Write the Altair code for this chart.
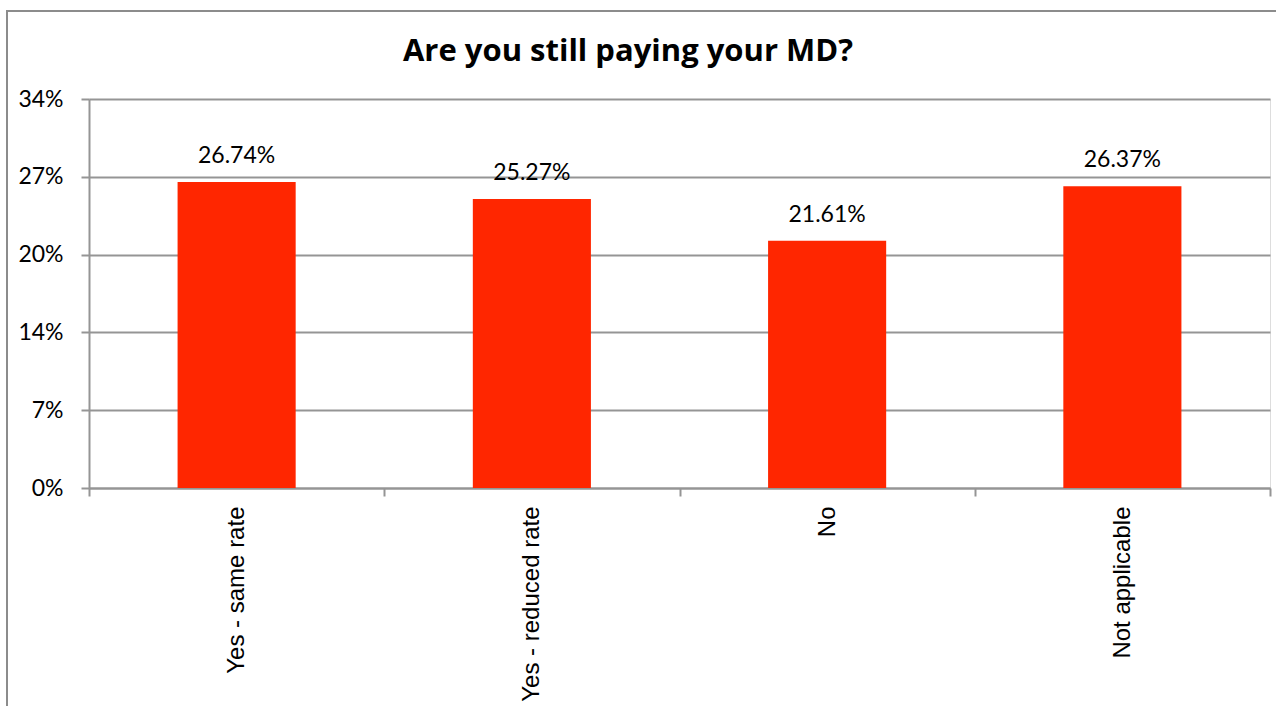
import altair as alt
import pandas as pd

categories = ["Yes - same rate", "Yes - reduced rate", "No", "Not applicable"]
values = [0.2674, 0.2527, 0.2161, 0.2637]
labels = ["26.74%", "25.27%", "21.61%", "26.37%"]
y_ticks = [0, 0.068, 0.136, 0.204, 0.272, 0.34]
title_text = ["Are you still paying your MD?"]

df = pd.DataFrame({"cat": categories, "val": values, "lab": labels})
tdf = pd.DataFrame({"t": title_text})

W, H = 1181, 389

x = alt.X("cat:N", sort=categories, title=None,
          scale=alt.Scale(paddingInner=0, paddingOuter=0),
          axis=alt.Axis(labelAngle=-90, labelFont="Liberation Sans", labelFontSize=24,
                        labelColor="#000000", labelPadding=10, tickSize=8, labelLimit=400,
                        tickColor="#959595", tickWidth=2, domainColor="#959595",
                        domainWidth=2, grid=False, tickBand="extent",
                        labelBaseline="middle", labelAlign="right"))
y = alt.Y("val:Q", title=None,
          scale=alt.Scale(domain=[0, 0.34], nice=False),
          axis=alt.Axis(values=y_ticks, format=".0%", labelFont="Lato",
                        labelFontSize=23, labelColor="#000000", labelPadding=18,
                        tickSize=8, tickColor="#959595", tickWidth=2,
                        domainColor="#959595", domainWidth=2,
                        gridColor="#959595", gridWidth=2))

frame = alt.Chart(df).mark_rect(fill=None, stroke="#8c8c8c", strokeWidth=2).encode(
    x=alt.value(-82), x2=alt.value(W + 30), y=alt.value(-88), y2=alt.value(H + 240)
)

bars = alt.Chart(df).mark_bar(color="#FF2600", width={"band": 0.4}).encode(x=x, y=y)

text = alt.Chart(df).mark_text(font="Lato", fontSize=23, baseline="alphabetic",
                               dy=-19, color="#000000").encode(
    x=alt.X("cat:N", sort=categories), y="val:Q", text="lab:N"
)

title = alt.Chart(tdf).mark_text(font="Open Sans", fontSize=31, fontWeight="bold",
                                 baseline="alphabetic", align="center", color="#000000").encode(
    x=alt.value(539), y=alt.value(-38), text="t:N"
)

chart = alt.layer(frame, bars, text, title).properties(
    width=W, height=H,
    padding={"left": 89, "top": 99, "right": 6, "bottom": 218},
    autosize=alt.AutoSizeParams(type="none"),
).configure_view(stroke=None).configure(background="#ffffff")

chart.save("out.html", embed_options={"renderer": "svg", "actions": False})
